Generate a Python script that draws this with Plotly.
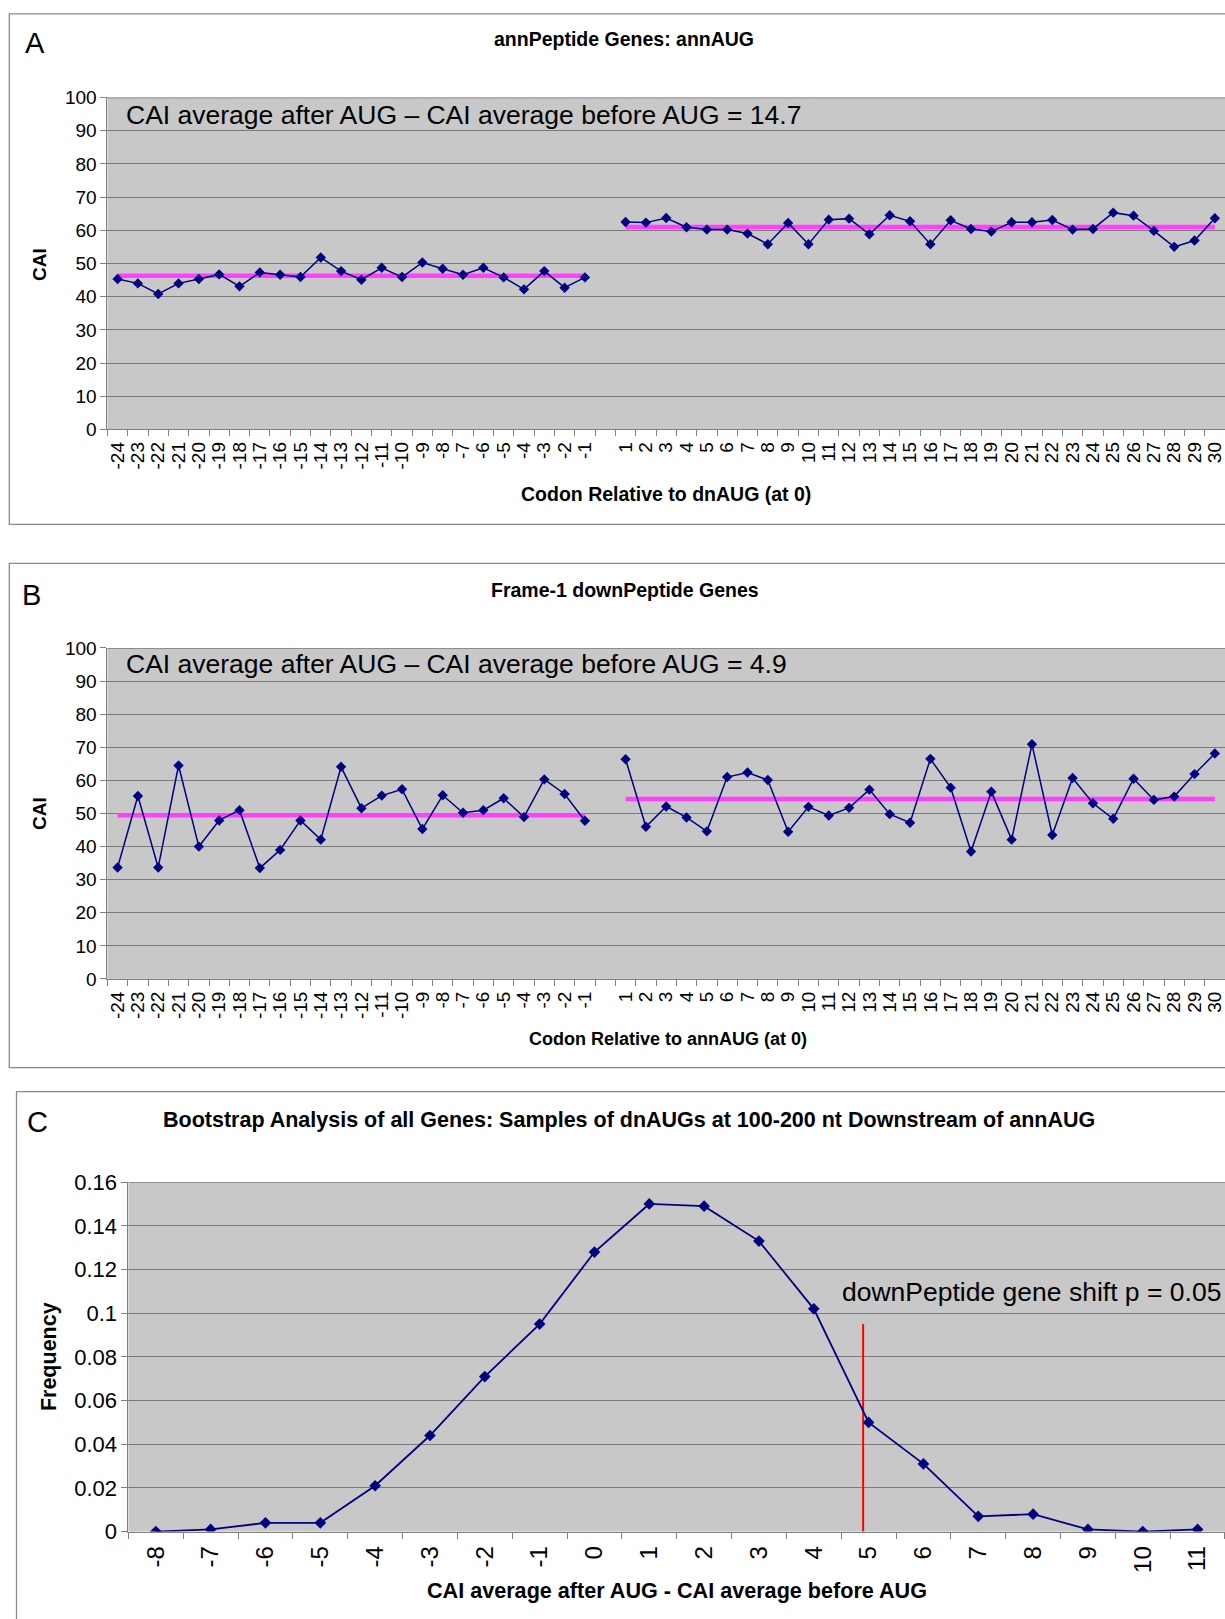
import plotly.graph_objects as go

# ---------------- data ----------------
codons_before = list(range(-24, 0))
codons_after = list(range(1, 31))

a_cai_before = [45.3, 44.0, 40.8, 44.0, 45.3, 46.7, 43.1, 47.3, 46.6, 45.9, 51.8, 47.7,
                45.1, 48.7, 45.9, 50.3, 48.4, 46.6, 48.7, 45.8, 42.2, 47.7, 42.7, 45.8]
a_cai_after = [62.5, 62.3, 63.7, 60.9, 60.2, 60.2, 59.0, 55.8, 62.2, 55.8, 63.2, 63.5,
               58.8, 64.5, 62.7, 55.8, 63.0, 60.4, 59.6, 62.4, 62.4, 63.1, 60.2, 60.4,
               65.3, 64.4, 59.8, 55.0, 56.9, 63.6]
a_mean_before = 46.3
a_mean_after = 61.0
a_shift = 14.7

b_cai_before = [33.7, 55.3, 33.7, 64.5, 40.0, 47.9, 51.0, 33.5, 39.0, 47.9, 42.1, 64.1,
                51.6, 55.4, 57.3, 45.3, 55.5, 50.2, 51.0, 54.6, 48.9, 60.3, 55.9, 47.8]
b_cai_after = [66.4, 46.0, 52.1, 48.8, 44.6, 61.0, 62.4, 60.1, 44.5, 52.0, 49.4, 51.7,
               57.2, 49.8, 47.2, 66.5, 57.8, 38.5, 56.6, 42.1, 70.9, 43.5, 60.7, 53.1,
               48.4, 60.5, 54.1, 55.1, 61.9, 68.1]
b_mean_before = 49.5
b_mean_after = 54.4
b_shift = 4.9

c_shift_bins = list(range(-8, 12))
c_frequency = [0.000, 0.001, 0.004, 0.004, 0.021, 0.044, 0.071, 0.095, 0.128, 0.150,
               0.149, 0.133, 0.102, 0.050, 0.031, 0.007, 0.008, 0.001, 0.000, 0.001]
c_marker_shift = 4.9
c_marker_top = 0.095
p_value = 0.05

codon_ticks = codons_before + codons_after
codon_ticktext = [str(v) for v in codon_ticks]
c_ticktext = [str(v) for v in c_shift_bins]

# ---------------- styling ----------------
W, H = 1225, 1619
FONT = "Liberation Sans, Arial, sans-serif"
NAVY = "#000080"
PINK = "#FF40FF"
BG = "#C8C8C8"
GRID = "#7A7A7A"
AXIS = "#808080"

# the page capture maps figure y -> 10.5 + 0.9863*y ; compensate
Y_OFF, Y_SCALE = 10.5, 0.9863


def px_x(v):
    return v / W


def px_y(v):
    return 1 - ((v - Y_OFF) / Y_SCALE) / H


fig = go.Figure()


def add_cai_panel(xa, ya, before, after, mb, ma):
    xs = "x" if xa == 1 else f"x{xa}"
    ys = "y" if ya == 1 else f"y{ya}"
    fig.add_trace(go.Scatter(x=[codons_before[0], codons_before[-1]], y=[mb, mb],
                             mode="lines", line=dict(color=PINK, width=4.5),
                             xaxis=xs, yaxis=ys, hoverinfo="skip"))
    fig.add_trace(go.Scatter(x=[codons_after[0], codons_after[-1]], y=[ma, ma],
                             mode="lines", line=dict(color=PINK, width=4.5),
                             xaxis=xs, yaxis=ys, hoverinfo="skip"))
    for xv, yv in ((codons_before, before), (codons_after, after)):
        fig.add_trace(go.Scatter(x=xv, y=yv, mode="lines+markers",
                                 line=dict(color=NAVY, width=1.5),
                                 marker=dict(symbol="diamond", size=8, color=NAVY),
                                 xaxis=xs, yaxis=ys))


add_cai_panel(1, 1, a_cai_before, a_cai_after, a_mean_before, a_mean_after)
add_cai_panel(2, 2, b_cai_before, b_cai_after, b_mean_before, b_mean_after)

fig.add_trace(go.Scatter(x=[c_marker_shift, c_marker_shift], y=[0, c_marker_top],
                         mode="lines", line=dict(color="#FF0000", width=2),
                         xaxis="x3", yaxis="y3"))
fig.add_trace(go.Scatter(x=c_shift_bins, y=c_frequency, mode="lines+markers",
                         line=dict(color=NAVY, width=1.8),
                         marker=dict(symbol="diamond", size=9, color=NAVY),
                         xaxis="x3", yaxis="y3"))

half_a = [v + 0.5 for v in range(-25, 31)]
half_c = [v + 0.5 for v in range(-9, 12)]

x_common = dict(showgrid=False, zeroline=False, showline=True, linecolor=AXIS, linewidth=1,
                ticks="outside", ticklen=4, tickcolor="rgba(0,0,0,0)", tickangle=-90,
                ticklabeloverflow="allow",
                tickfont=dict(family=FONT, size=19, color="black"))
y_common = dict(showgrid=True, gridcolor=GRID, gridwidth=1, zeroline=False, showline=True,
                linecolor=AXIS, linewidth=1, ticks="outside", ticklen=6, tickcolor=AXIS,
                tickfont=dict(family=FONT, size=19, color="black"))

dom_a_y = [px_y(428.7), px_y(96.1)]
dom_b_y = [px_y(979.2), px_y(647.6)]
dom_c_y = [px_y(1532.8), px_y(1182.7)]

fig.update_layout(
    width=W, height=H, margin=dict(l=0, r=0, t=0, b=0),
    paper_bgcolor="white", plot_bgcolor=BG, showlegend=False,
    font=dict(family=FONT, color="black"),
    xaxis=dict(domain=[px_x(106.5), 1], anchor="y", range=[-24.5, 30.5],
               tickmode="array", tickvals=codon_ticks, ticktext=codon_ticktext,
               minor=dict(tickmode="array", tickvals=half_a, ticks="outside", ticklen=6,
                          tickcolor=AXIS, showgrid=False), **x_common),
    yaxis=dict(domain=dom_a_y, anchor="x", range=[0, 100], dtick=10, **y_common),
    xaxis2=dict(domain=[px_x(106.5), 1], anchor="y2", range=[-24.5, 30.5],
                tickmode="array", tickvals=codon_ticks, ticktext=codon_ticktext,
                minor=dict(tickmode="array", tickvals=half_a, ticks="outside", ticklen=6,
                           tickcolor=AXIS, showgrid=False), **x_common),
    yaxis2=dict(domain=dom_b_y, anchor="x2", range=[0, 100], dtick=10, **y_common),
    xaxis3=dict(domain=[px_x(127.5), 1], anchor="y3", range=[-8.5, 11.5],
                tickmode="array", tickvals=c_shift_bins, ticktext=c_ticktext,
                minor=dict(tickmode="array", tickvals=half_c, ticks="outside", ticklen=6,
                           tickcolor=AXIS, showgrid=False),
                **{**x_common, "tickfont": dict(family=FONT, size=24, color="black")}),
    yaxis3=dict(domain=dom_c_y, anchor="x3", range=[0, 0.16], dtick=0.02,
                **{**y_common, "tickfont": dict(family=FONT, size=22, color="black")}),
)

shapes = []
shapes.append(dict(type="rect", xref="paper", yref="paper", x0=px_x(8.3), x1=px_x(1260),
                   y0=px_y(523.7), y1=px_y(12.4), line=dict(color="#8C8C8C", width=1.3)))
shapes.append(dict(type="rect", xref="paper", yref="paper", x0=px_x(8.3), x1=px_x(1260),
                   y0=px_y(1068), y1=px_y(562.9), line=dict(color="#8C8C8C", width=1.3)))
shapes.append(dict(type="rect", xref="paper", yref="paper", x0=px_x(15.5), x1=px_x(1260),
                   y0=px_y(1720), y1=px_y(1092), line=dict(color="#8C8C8C", width=1.3)))
for xs, ys, top in (("x domain", "y", 100), ("x2 domain", "y2", 100), ("x3 domain", "y3", 0.16)):
    shapes.append(dict(type="line", xref=xs, yref=ys, x0=0, x1=1, y0=top, y1=top,
                       line=dict(color=GRID, width=1.5), layer="below"))
fig.update_layout(shapes=shapes)

ann = []


def text(x, y, s, size, bold=False, xanchor="center", angle=0):
    ann.append(dict(xref="paper", yref="paper", x=px_x(x), y=px_y(y),
                    text=f"<b>{s}</b>" if bold else s,
                    showarrow=False, xanchor=xanchor, yanchor="middle", textangle=angle,
                    font=dict(family=FONT, size=size, color="black")))


text(22, 42, "A", 29, xanchor="left")
text(19, 595, "B", 29, xanchor="left")
text(24, 1122, "C", 29, xanchor="left")
text(624, 38, "annPeptide Genes: annAUG", 19.5, bold=True)
text(625, 590, "Frame-1 downPeptide Genes", 19.5, bold=True)
text(629, 1120, "Bootstrap Analysis of all Genes: Samples of dnAUGs at 100-200 nt Downstream of annAUG", 21.5, bold=True)
text(666, 493, "Codon Relative to dnAUG (at 0)", 19.5, bold=True)
text(668, 1039, "Codon Relative to annAUG (at 0)", 18, bold=True)
text(677, 1592, "CAI average after AUG - CAI average before AUG", 21.6, bold=True)
text(38, 263, "CAI", 19, bold=True, angle=-90)
text(38, 813, "CAI", 19, bold=True, angle=-90)
text(48, 1357, "Frequency", 21.5, bold=True, angle=-90)
text(123, 114, f"CAI average after AUG \u2013 CAI average before AUG = {a_shift}", 26.5, xanchor="left")
text(123, 664, f"CAI average after AUG \u2013 CAI average before AUG = {b_shift}", 26.5, xanchor="left")
text(840, 1293, f"downPeptide gene shift p = {p_value}", 26.5, xanchor="left")
fig.update_layout(annotations=ann)

post = ("var h=document.documentElement, b=document.body;"
        "h.style.margin='0';h.style.padding='0';h.style.overflow='hidden';h.style.height='1619px';"
        "b.style.margin='0';b.style.padding='0';b.style.overflow='hidden';b.style.height='1619px';"
        "var d=document.querySelector('.plotly-graph-div');"
        "if(d){d.style.position='fixed';d.style.left='0px';d.style.top='0px';"
        "if(d.parentElement){d.parentElement.style.margin='0';d.parentElement.style.padding='0';}}"
        "window.scrollTo(0,0);")
fig.write_html("out.html", post_script=post, config={"displayModeBar": False})
